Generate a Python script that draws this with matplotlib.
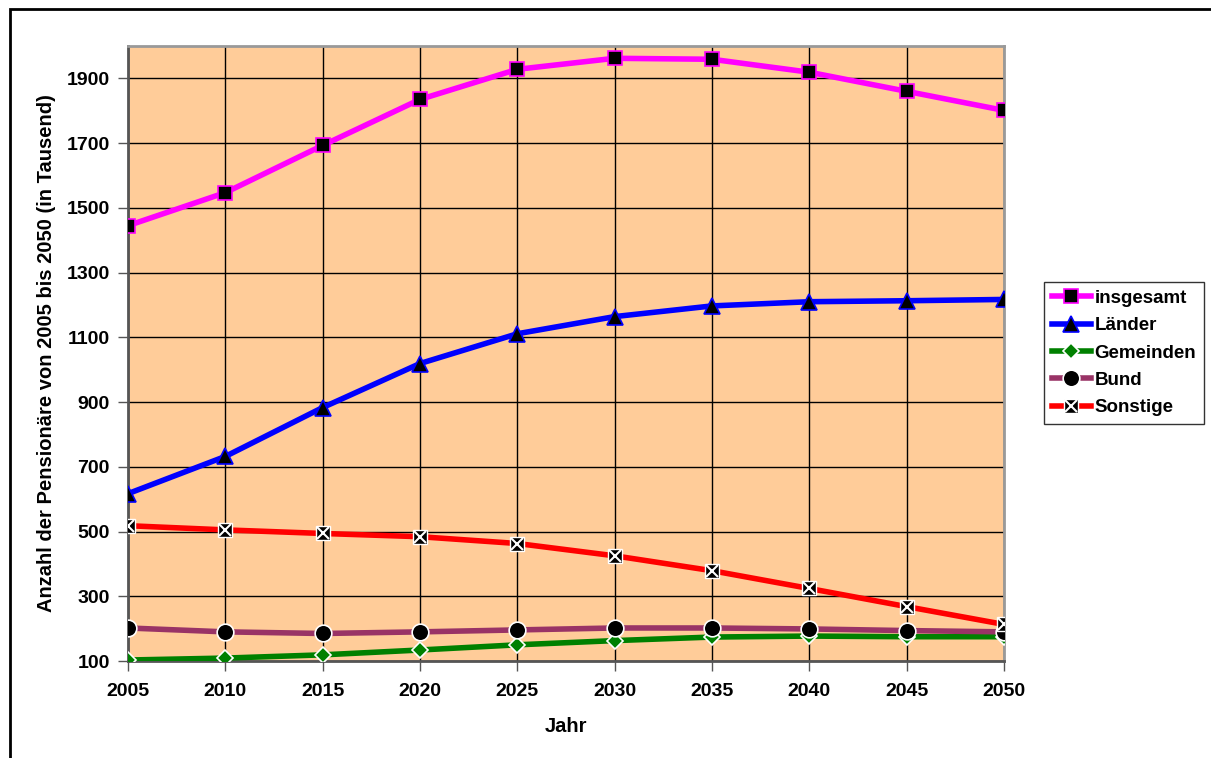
import matplotlib
matplotlib.use("Agg")
import matplotlib.pyplot as plt
from matplotlib.patches import Rectangle
from matplotlib.lines import Line2D

plt.rcParams['font.family'] = ['Liberation Sans', 'DejaVu Sans']
plt.rcParams['font.weight'] = 'bold'

years = [2005, 2010, 2015, 2020, 2025, 2030, 2035, 2040, 2045, 2050]
insgesamt = [1445, 1547, 1693, 1835, 1928, 1962, 1959, 1919, 1860, 1801]
laender = [617, 732, 883, 1019, 1111, 1164, 1197, 1210, 1213, 1217]
gemeinden = [103, 109, 119, 134, 150, 163, 174, 177, 175, 175]
bund = [202, 190, 185, 190, 196, 202, 202, 199, 194, 190]
sonstige = [518, 505, 494, 484, 463, 425, 379, 324, 268, 213]
yticks = [100, 300, 500, 700, 900, 1100, 1300, 1500, 1700, 1900]

fig = plt.figure(figsize=(12.11, 7.58), dpi=100)
fig.patches.append(Rectangle((10/1211, -0.01), 1.02, 1 - 9/758 + 0.01, transform=fig.transFigure,
                             fill=False, edgecolor='black', linewidth=2))
ax = fig.add_axes([128/1211, 1 - 661/758, (1004 - 128)/1211, (661 - 46)/758])
ax.set_facecolor('#FFCC99')

ax.plot(years, insgesamt, color='#FF00FF', lw=4, marker='s', ms=10,
        mfc='black', mec='#FF00FF', mew=1.2, label='insgesamt', zorder=3)
ax.plot(years, laender, color='#0000FF', lw=4, marker='^', ms=11,
        mfc='black', mec='#0000FF', mew=1.2, label='Länder', zorder=3)
ax.plot(years, gemeinden, color='#008000', lw=4, marker='D', ms=8,
        mfc='#008000', mec='white', mew=1.2, label='Gemeinden', zorder=3)
ax.plot(years, bund, color='#993366', lw=4, marker='o', ms=12,
        mfc='black', mec='white', mew=1.2, label='Bund', zorder=3)
ax.plot(years, sonstige, color='#FF0000', lw=4, marker='s', ms=10,
        mfc='black', mec='white', mew=1.0, zorder=4)
ax.plot(years, sonstige, ls='none', marker='x', ms=8, mec='white', mew=1.5, zorder=5)
h_sonst = (Line2D([], [], color='#FF0000', lw=4, marker='s', ms=10, mfc='black', mec='white', mew=1.0),
           Line2D([], [], ls='none', marker='x', ms=8, mec='white', mew=1.5))

ax.set_xlim(2005, 2050)
ax.set_ylim(100, 2000)
ax.set_xticks(years)
ax.set_yticks(yticks)
ax.grid(True, color='black', lw=1)
ax.set_axisbelow(True)
ax.tick_params(axis='both', labelsize=14, length=7, width=1, color='#555555', direction='out')
for lbl in ax.get_xticklabels() + ax.get_yticklabels():
    lbl.set_fontweight('bold')
ax.tick_params(axis='x', pad=9)
ax.tick_params(axis='y', pad=6)
for s in ['left', 'bottom']:
    ax.spines[s].set_color('#555555')
    ax.spines[s].set_linewidth(2)
for s in ['top', 'right']:
    ax.spines[s].set_color('#999999')
    ax.spines[s].set_linewidth(2)

ax.set_xlabel('Jahr', fontsize=14.5, fontweight='bold', labelpad=12)
ax.set_ylabel('Anzahl der Pensionäre von 2005 bis 2050 (in Tausend)', fontsize=14.5,
              fontweight='bold', labelpad=8)

handles, labels = ax.get_legend_handles_labels()
handles.append(h_sonst)
labels.append('Sonstige')
leg = fig.legend(handles, labels, loc='upper left', bbox_to_anchor=(1044/1211, 1 - 282/758),
                 fontsize=13.5, frameon=True, fancybox=False, edgecolor='black',
                 handlelength=2.1, handletextpad=0.2, labelspacing=0.55, borderpad=0.4,
                 borderaxespad=0)
leg.get_frame().set_linewidth(1)
for t in leg.get_texts():
    t.set_fontweight('bold')

fig.savefig('out.png', dpi=100)
